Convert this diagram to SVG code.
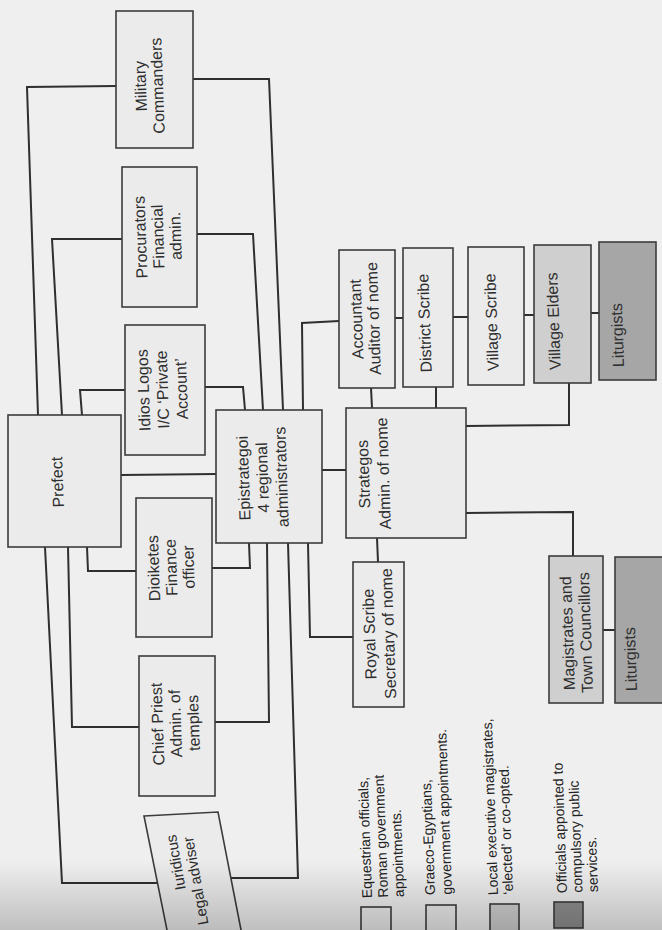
<svg xmlns="http://www.w3.org/2000/svg" width="662" height="930" viewBox="0 0 662 930">
<defs>
<linearGradient id="shade" x1="0" y1="0" x2="0" y2="1">
<stop offset="0" stop-color="#000" stop-opacity="0"/>
<stop offset="1" stop-color="#000" stop-opacity="0.2"/>
</linearGradient>
</defs>
<style>
.box{fill:#ebebeb;stroke:#3c3c3c;stroke-width:1.6}
.local{fill:#cfcfcf}
.lit{fill:#a6a6a6}
.conn{fill:none;stroke:#2f2f2f;stroke-width:2}
.lbl{font-family:"Liberation Sans",Arial,sans-serif;font-size:16px;fill:#2e2e2e;text-anchor:middle}
.leg{font-family:"Liberation Sans",Arial,sans-serif;font-size:14px;fill:#222;text-anchor:start}
</style>
<rect x="0" y="0" width="662" height="930" fill="#efefef"/>

<g id="connectors">
<path class="conn" d="M116,86 L27,87 L38,415"/>
<path class="conn" d="M192,79 L269,79 L283,410"/>
<path class="conn" d="M122,239 L52,239 L62,415"/>
<path class="conn" d="M197,234 L253,234 L263,410"/>
<path class="conn" d="M125,390 L80,390 L82,415"/>
<path class="conn" d="M205,387 L243,387 L245,410"/>
<path class="conn" d="M339,321 L302,323 L303,410"/>
<path class="conn" d="M121,475 L216,474"/>
<path class="conn" d="M322,470 L346,470"/>
<path class="conn" d="M212,568 L250,568 L249,543"/>
<path class="conn" d="M215,722 L269,722 L267,543"/>
<path class="conn" d="M230,878 L298,878 L288,543"/>
<path class="conn" d="M308,543 L310,637 L353,637"/>
<path class="conn" d="M45,547 L62,883 L158,883"/>
<path class="conn" d="M68,547 L72,727 L139,727"/>
<path class="conn" d="M87,547 L88,571 L136,571"/>
<path class="conn" d="M371,388 L372,408"/>
<path class="conn" d="M436,387 L436,408"/>
<path class="conn" d="M466,426 L569,425 L569,383"/>
<path class="conn" d="M466,513 L573,512 L573,556"/>
<path class="conn" d="M377,538 L378,562"/>
<path class="conn" d="M395,318 L403,318"/>
<path class="conn" d="M453,317 L468,317"/>
<path class="conn" d="M524,315 L534,315"/>
<path class="conn" d="M591,313 L599,313"/>
<path class="conn" d="M603,630 L615,630"/>
</g>

<g id="military">
<rect class="box" x="116" y="11" width="77" height="137"/>
<text class="lbl" transform="translate(146,86) rotate(-92)"><tspan x="0" y="0">Military</tspan><tspan x="0" y="17">Commanders</tspan></text>
</g>
<g id="procurators">
<rect class="box" x="122" y="167" width="75" height="140"/>
<text class="lbl" transform="translate(146,237) rotate(-92)"><tspan x="0" y="0">Procurators</tspan><tspan x="0" y="17.5">Financial</tspan><tspan x="0" y="35">admin.</tspan></text>
</g>
<g id="idios-logos">
<rect class="box" x="125" y="325" width="80" height="130"/>
<text class="lbl" transform="translate(149,390) rotate(-92)"><tspan x="0" y="0">Idios Logos</tspan><tspan x="0" y="19">I/C ‘Private</tspan><tspan x="0" y="38">Account’</tspan></text>
</g>
<g id="prefect">
<rect class="box" x="8" y="415" width="113" height="132"/>
<text class="lbl" transform="translate(63,482) rotate(-92)">Prefect</text>
</g>
<g id="epistrategoi">
<rect class="box" x="216" y="410" width="106" height="133"/>
<text class="lbl" transform="translate(249,478) rotate(-92)"><tspan x="0" y="0">Epistrategoi</tspan><tspan x="0" y="19">4 regional</tspan><tspan x="0" y="38">administrators</tspan></text>
</g>
<g id="dioiketes">
<rect class="box" x="136" y="498" width="76" height="139"/>
<text class="lbl" transform="translate(159,568) rotate(-92)"><tspan x="0" y="0">Dioiketes</tspan><tspan x="0" y="17.5">Finance</tspan><tspan x="0" y="35">officer</tspan></text>
</g>
<g id="chief-priest">
<rect class="box" x="139" y="656" width="76" height="140"/>
<text class="lbl" transform="translate(163,724) rotate(-92)"><tspan x="0" y="0">Chief Priest</tspan><tspan x="0" y="18">Admin. of</tspan><tspan x="0" y="36">temples</tspan></text>
</g>
<g id="iuridicus">
<polygon class="box" points="144,816 218,812 242,935 168,935"/>
<text class="lbl" style="text-anchor:end;font-size:15px" transform="translate(176,834) rotate(-100)">Iuridicus</text>
<text class="lbl" style="text-anchor:end;font-size:15px" transform="translate(193,836) rotate(-100)">Legal adviser</text>
</g>
<g id="accountant">
<rect class="box" x="339" y="250" width="56" height="138"/>
<text class="lbl" transform="translate(362,319) rotate(-92)"><tspan x="0" y="0">Accountant</tspan><tspan x="0" y="17">Auditor of nome</tspan></text>
</g>
<g id="district-scribe">
<rect class="box" x="403" y="248" width="50" height="139"/>
<text class="lbl" transform="translate(430,323) rotate(-92)">District Scribe</text>
</g>
<g id="village-scribe">
<rect class="box" x="468" y="247" width="56" height="138"/>
<text class="lbl" transform="translate(497,322) rotate(-92)">Village Scribe</text>
</g>
<g id="village-elders">
<rect class="box local" x="534" y="245" width="57" height="138"/>
<text class="lbl" transform="translate(559,321) rotate(-92)">Village Elders</text>
</g>
<g id="liturgists-village">
<rect class="box lit" x="599" y="242" width="57" height="138"/>
<text class="lbl" transform="translate(623,335) rotate(-92)">Liturgists</text>
</g>
<g id="strategos">
<rect class="box" x="346" y="408" width="120" height="130"/>
<text class="lbl" transform="translate(369,474) rotate(-92)"><tspan x="0" y="0">Strategos</tspan><tspan x="0" y="20">Admin. of nome</tspan></text>
</g>
<g id="royal-scribe">
<rect class="box" x="353" y="562" width="51" height="145"/>
<text class="lbl" transform="translate(375,634) rotate(-92)"><tspan x="0" y="0">Royal Scribe</tspan><tspan x="0" y="19">Secretary of nome</tspan></text>
</g>
<g id="magistrates">
<rect class="box local" x="549" y="556" width="54" height="147"/>
<text class="lbl" transform="translate(573,633) rotate(-92)"><tspan x="0" y="0">Magistrates and</tspan><tspan x="0" y="18">Town Councillors</tspan></text>
</g>
<g id="liturgists-town">
<rect class="box lit" x="615" y="557" width="60" height="146"/>
<text class="lbl" transform="translate(636,659) rotate(-92)">Liturgists</text>
</g>

<g id="legend">
<rect class="box" x="361" y="907" width="30" height="30"/>
<text class="leg" transform="translate(372,898) rotate(-92)"><tspan x="0" y="0">Equestrian officials,</tspan><tspan x="0" y="16">Roman government</tspan><tspan x="0" y="32">appointments.</tspan></text>
<rect class="box" x="426" y="905" width="30" height="30"/>
<text class="leg" transform="translate(435,895) rotate(-92)"><tspan x="0" y="0">Graeco-Egyptians,</tspan><tspan x="0" y="17">government appointments.</tspan></text>
<rect class="box local" x="490" y="904" width="29" height="30"/>
<text class="leg" transform="translate(498,895) rotate(-92)"><tspan x="0" y="0">Local executive magistrates,</tspan><tspan x="0" y="15">‘elected’ or co-opted.</tspan></text>
<rect class="box lit" style="fill:#8e8e8e" x="554" y="902" width="29" height="26"/>
<text class="leg" transform="translate(567,893) rotate(-92)"><tspan x="0" y="0">Officials appointed to</tspan><tspan x="0" y="15.5">compulsory public</tspan><tspan x="0" y="31">services.</tspan></text>
</g>

<rect x="0" y="860" width="662" height="70" fill="url(#shade)"/>
</svg>
